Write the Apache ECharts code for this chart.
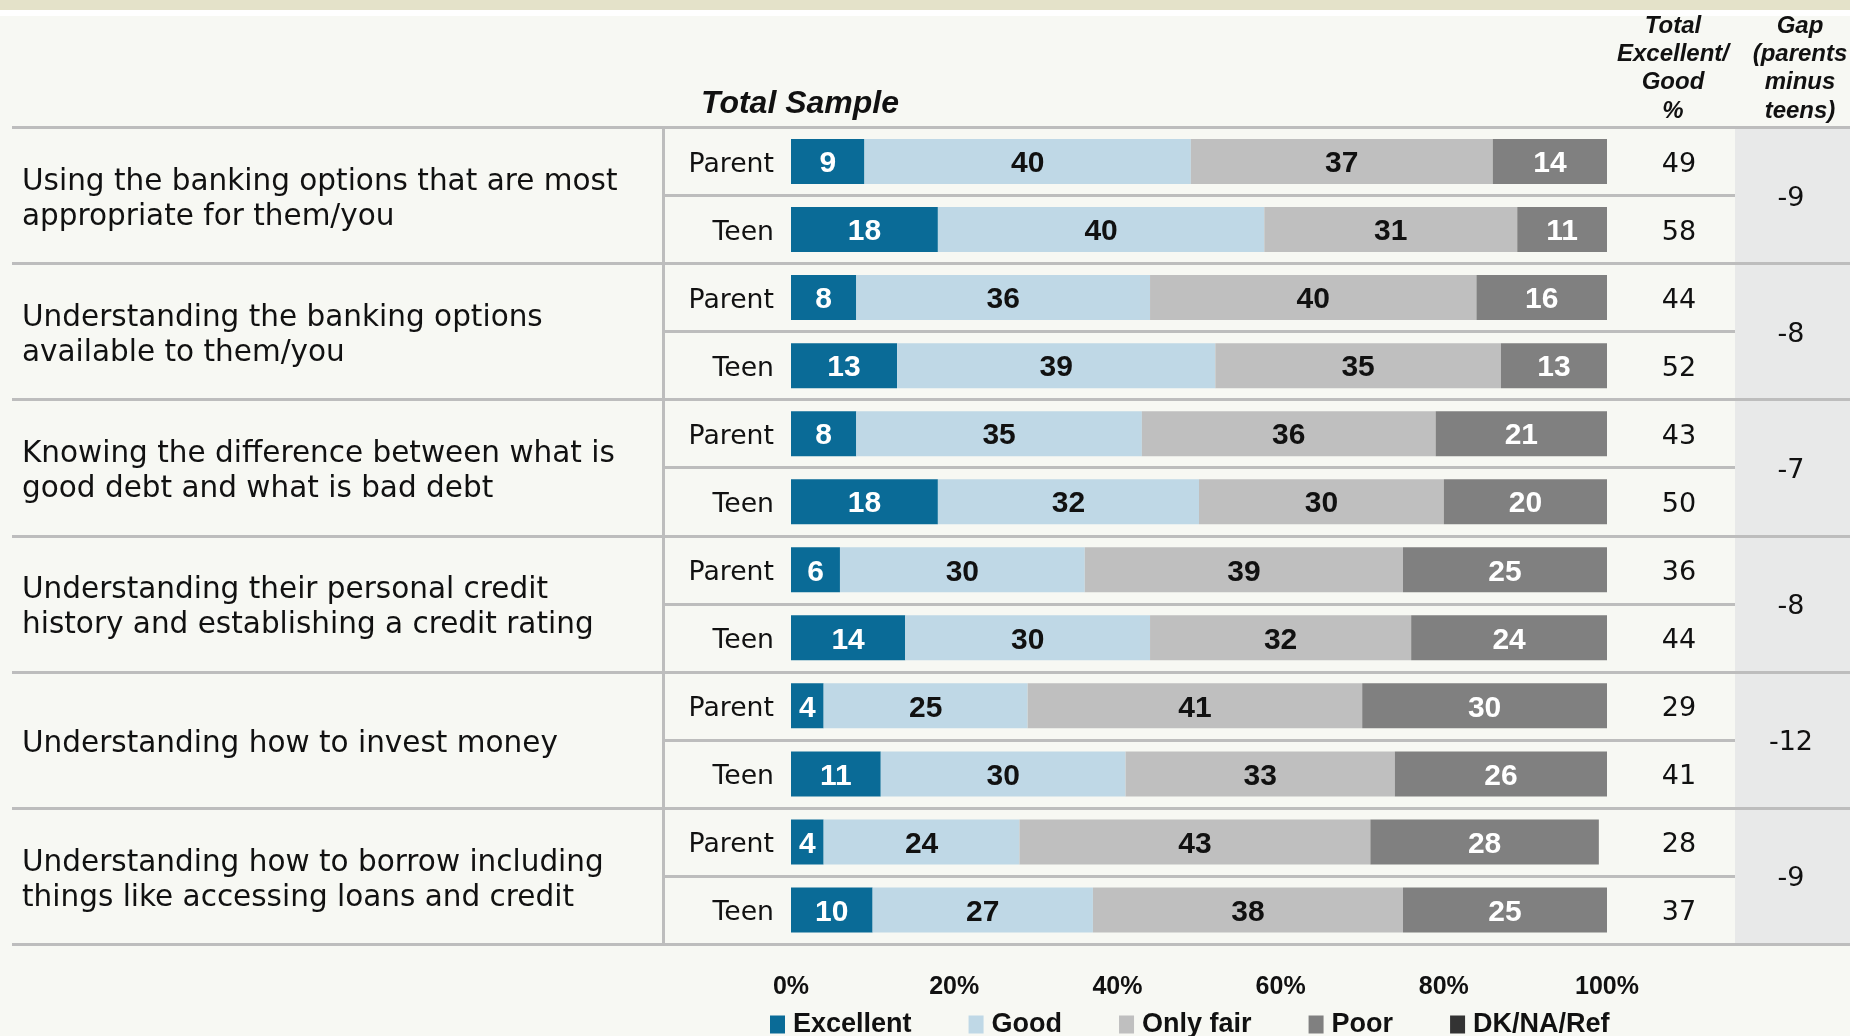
<!DOCTYPE html>
<html>
<head>
<meta charset="utf-8">
<script src="https://cdn.jsdelivr.net/npm/echarts@6/dist/echarts.min.js"></script>
<style>
  html, body { margin: 0; padding: 0; background: #f7f8f3; }
  #chart { width: 1850px; height: 1036px; }
</style>
</head>
<body>
<div id="chart"></div>
<script>
// rows (top to bottom)
var rowLabels = ['Parent', 'Teen', 'Parent', 'Teen', 'Parent', 'Teen', 'Parent', 'Teen', 'Parent', 'Teen', 'Parent', 'Teen'];
var groupLabels = [
  'Using the banking options that are most\nappropriate for them/you',
  'Understanding the banking options\navailable to them/you',
  'Knowing the difference between what is\ngood debt and what is bad debt',
  'Understanding their personal credit\nhistory and establishing a credit rating',
  'Understanding how to invest money',
  'Understanding how to borrow including\nthings like accessing loans and credit'
];
var seriesNames = ['Excellent', 'Good', 'Only fair', 'Poor', 'DK/NA/Ref'];
var excellent = [9, 18, 8, 13, 8, 18, 6, 14, 4, 11, 4, 10];
var good      = [40, 40, 36, 39, 35, 32, 30, 30, 25, 30, 24, 27];
var onlyFair  = [37, 31, 40, 35, 36, 30, 39, 32, 41, 33, 43, 38];
var poor      = [14, 11, 16, 13, 21, 20, 25, 24, 30, 26, 28, 25];
var dkna      = [0, 0, 0, 0, 0, 0, 0, 0, 0, 0, 0, 0];
var totalGood = [49, 58, 44, 52, 43, 50, 36, 44, 29, 41, 28, 37];
var gaps      = [-9, -8, -7, -8, -12, -9];
var xTicks    = [0, 20, 40, 60, 80, 100];
var headerSample = 'Total Sample';
var headerTotal  = 'Total\nExcellent/\nGood\n%';
var headerGap    = 'Gap\n(parents\nminus\nteens)';

var colors = ['#0a6b97', '#bfd8e6', '#bfbfbf', '#808080', '#333333'];
var labelColors = ['#ffffff', '#111111', '#111111', '#ffffff', '#ffffff'];
var dataSets = [excellent, good, onlyFair, poor, dkna];

var TOP = 127.5, BOTTOM = 92;
var lineColor = '#bdbdbd';
var narrow = 'Liberation Sans, Arial, sans-serif';
var plain = 'DejaVu Sans, Verdana, sans-serif';

var chart = echarts.init(document.getElementById('chart'));

var series = seriesNames.map(function (name, i) {
  return {
    name: name,
    type: 'bar',
    stack: 'total',
    xAxisIndex: 0,
    yAxisIndex: 0,
    barWidth: 45,
    itemStyle: { color: colors[i] },
    label: {
      show: true,
      position: 'inside',
      offset: [0, 2.5],
      color: labelColors[i],
      fontFamily: narrow,
      fontWeight: 'bold',
      fontSize: 30,
      formatter: function (p) { return p.value > 0 ? p.value : ''; }
    },
    data: dataSets[i]
  };
});

// text columns sit on grids nudged down a few px so the glyphs line up with the bars
var noLine = { show: false };

var option = {
  backgroundColor: '#f7f8f3',
  animation: false,
  graphic: [
    { type: 'rect', z: -10, shape: { x: 0, y: 0, width: 1850, height: 10 }, style: { fill: '#e4e2c9' } },
    { type: 'rect', z: -10, shape: { x: 0, y: 10, width: 1850, height: 6 }, style: { fill: '#ffffff' } },
    { type: 'rect', z: -10, shape: { x: 1735, y: TOP, width: 115, height: 1036 - BOTTOM - TOP }, style: { fill: '#e8e9e9' } },
    { type: 'text', x: 800, y: 104, style: { text: headerSample, align: 'center', verticalAlign: 'middle',
        font: 'italic bold 32px Liberation Sans, Arial, sans-serif', fill: '#111' } },
    { type: 'text', x: 1673, y: 12, style: { text: headerTotal, align: 'center', verticalAlign: 'top', lineHeight: 28.3,
        font: 'italic bold 24px Liberation Sans, Arial, sans-serif', fill: '#111' } },
    { type: 'text', x: 1800, y: 12, style: { text: headerGap, align: 'center', verticalAlign: 'top', lineHeight: 28.3,
        font: 'italic bold 24px Liberation Sans, Arial, sans-serif', fill: '#111' } }
  ],
  legend: {
    data: seriesNames,
    left: 770,
    top: 1011,
    padding: 0,
    icon: 'rect',
    itemWidth: 15,
    itemHeight: 18,
    itemGap: 57,
    selectedMode: false,
    textStyle: { fontFamily: narrow, fontWeight: 'bold', fontSize: 27, color: '#111', padding: [0, 0, 0, 3] }
  },
  grid: [
    { left: 791, right: 1850 - 1607, top: TOP, bottom: BOTTOM },
    { left: 12, right: 0, top: TOP, bottom: BOTTOM },
    { left: 663, right: 1850 - 1735, top: TOP, bottom: BOTTOM },
    { left: 791, right: 1850 - 1607, top: TOP + 3.5, bottom: BOTTOM - 3.5 },
    { left: 791, right: 1850 - 1607, top: TOP + 4.5, bottom: BOTTOM - 4.5 }
  ],
  xAxis: [
    {
      gridIndex: 0, type: 'value', min: 0, max: 100, interval: 20,
      axisLine: noLine, axisTick: noLine, splitLine: noLine,
      axisLabel: {
        margin: 31, color: '#111', fontFamily: narrow, fontWeight: 'bold', fontSize: 25,
        formatter: function (v) { return xTicks.indexOf(v) >= 0 ? v + '%' : ''; }
      }
    },
    { gridIndex: 1, type: 'value', show: false },
    { gridIndex: 2, type: 'value', show: false },
    { gridIndex: 3, type: 'value', show: false },
    { gridIndex: 4, type: 'value', show: false }
  ],
  yAxis: [
    {
      gridIndex: 0, type: 'category', data: rowLabels, inverse: true,
      axisLine: noLine, axisTick: noLine, axisLabel: { show: false }
    },
    {
      gridIndex: 1, type: 'category', data: groupLabels, inverse: true,
      axisLine: noLine, axisTick: noLine, axisLabel: { show: false },
      splitLine: { show: true, lineStyle: { color: lineColor, width: 3 } }
    },
    {
      gridIndex: 2, type: 'category', data: rowLabels, inverse: true,
      axisLine: { show: true, lineStyle: { color: lineColor, width: 3 } },
      axisTick: noLine, axisLabel: { show: false },
      splitLine: { show: true, lineStyle: { color: lineColor, width: 3 } }
    },
    {
      gridIndex: 3, type: 'category', data: rowLabels, inverse: true, position: 'left',
      axisLine: noLine, axisTick: noLine,
      axisLabel: { interval: 0, margin: 17, color: '#111', fontFamily: plain, fontSize: 26.7 }
    },
    {
      gridIndex: 3, type: 'category', data: totalGood, inverse: true, position: 'right',
      axisLine: noLine, axisTick: noLine,
      axisLabel: { interval: 0, margin: 72, align: 'center', color: '#111', fontFamily: plain, fontSize: 27 }
    },
    {
      gridIndex: 3, type: 'category', data: gaps, inverse: true, position: 'right',
      axisLine: noLine, axisTick: noLine,
      axisLabel: { interval: 0, margin: 184, align: 'center', color: '#111', fontFamily: plain, fontSize: 27 }
    },
    {
      gridIndex: 4, type: 'category', data: groupLabels, inverse: true, position: 'left',
      axisLine: noLine, axisTick: noLine,
      axisLabel: { interval: 0, margin: 791 - 22, align: 'left', color: '#111', fontFamily: plain, fontSize: 29.5, lineHeight: 35 }
    }
  ],
  series: series
};

chart.setOption(option);
</script>
</body>
</html>
